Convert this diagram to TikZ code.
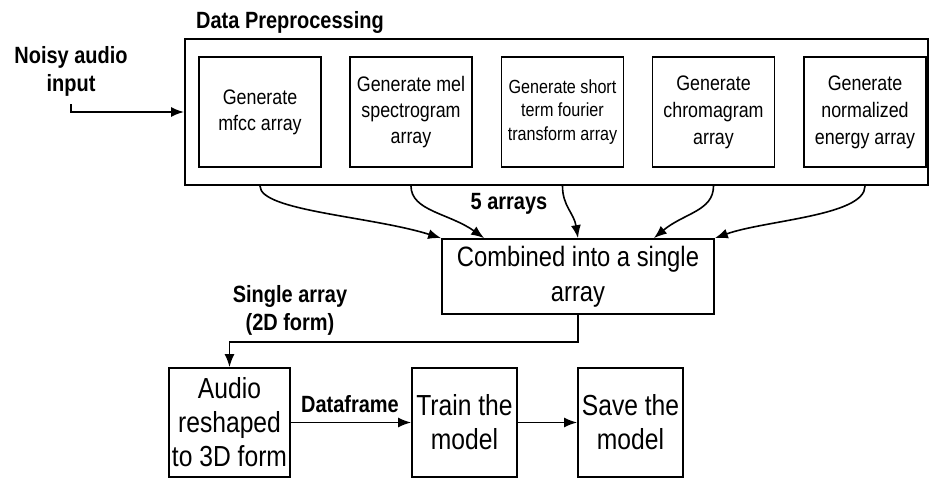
\documentclass[tikz,border=0pt]{standalone}
\usepackage{fontspec}
\setmainfont{Liberation Sans}[FakeStretch=0.85]
\usetikzlibrary{arrows.meta}

\begin{document}
\begin{tikzpicture}[x=1pt, y=-1pt, line width=1.7pt,
genbox/.style={draw, minimum width=122pt, minimum height=110pt, align=center, inner sep=1pt, font=\fontsize{21}{26}\selectfont},
stepbox/.style={draw, minimum height=109pt, align=center, inner sep=2pt, font=\fontsize{29}{34}\selectfont},
lbl/.style={align=center, font=\fontsize{23.5}{28}\selectfont\bfseries},
arr/.style={-{Latex[length=13pt,width=10pt]}, line width=1.6pt}]
\useasboundingbox (0,0) rectangle (929,479);
% preprocessing block
\node[draw, line width=2pt, minimum width=743pt, minimum height=146pt] (pre) at (556.5,112) {};
\node[lbl] (pretitle) at (290,22) {Data Preprocessing};
\node[genbox] (mfcc) at (260,112) {Generate\\mfcc array};
\node[genbox] (mel) at (411,112) {Generate mel\\spectrogram\\array};
\node[genbox, font=\fontsize{19}{23.5}\selectfont] (stft) at (562.5,112) {Generate short\\term fourier\\transform array};
\node[genbox, font=\fontsize{21}{27}\selectfont] (chroma) at (713.5,112) {Generate\\chromagram\\array};
\node[genbox, font=\fontsize{21}{27}\selectfont] (energy) at (865,112) {Generate\\normalized\\energy array};
% input
\node[lbl] (noisy) at (71,71) {Noisy audio\\input};
\draw[arr] ([yshift=-4pt]noisy.south) |- (pre.west);
% combining
\node[draw, minimum width=272pt, minimum height=75pt, align=center, inner sep=1pt, font=\fontsize{28}{35}\selectfont] (comb) at (578,276.5) {Combined into a single\\array};
\node[lbl] (five) at (509,204) {5 arrays};
\draw[arr] (mfcc.south |- pre.south) .. controls +(0,25) and +(-70,-22) .. (comb.north west);
\draw[arr] (mel.south |- pre.south) .. controls +(0,25) and +(-35,-25) .. ([xshift=43pt]comb.north west);
\draw[arr] (stft.south |- pre.south) .. controls +(0,20) and +(-4,-25) .. (comb.north);
\draw[arr] (chroma.south |- pre.south) .. controls +(0,25) and +(30,-25) .. ([xshift=-61pt]comb.north east);
\draw[arr] (energy.south |- pre.south) .. controls +(0,30) and +(50,-18) .. (comb.north east);
% model steps
\node[stepbox, minimum width=121pt] (audio) at (229.5,422.5) {Audio\\reshaped\\to 3D form};
\node[stepbox, minimum width=105pt] (train) at (464.5,422.5) {Train the\\model};
\node[stepbox, minimum width=105pt] (save) at (630.5,422.5) {Save the\\model};
\node[lbl] (single) at (290,310) {Single array\\(2D form)};
\node[lbl] (dframe) at (350,404) {Dataframe};
\draw[arr] (comb.south) -- ++(0,27) -| (audio.north);
\draw[arr] (audio.east) -- (train.west);
\draw[arr] (train.east) -- (save.west);
\end{tikzpicture}
\end{document}
